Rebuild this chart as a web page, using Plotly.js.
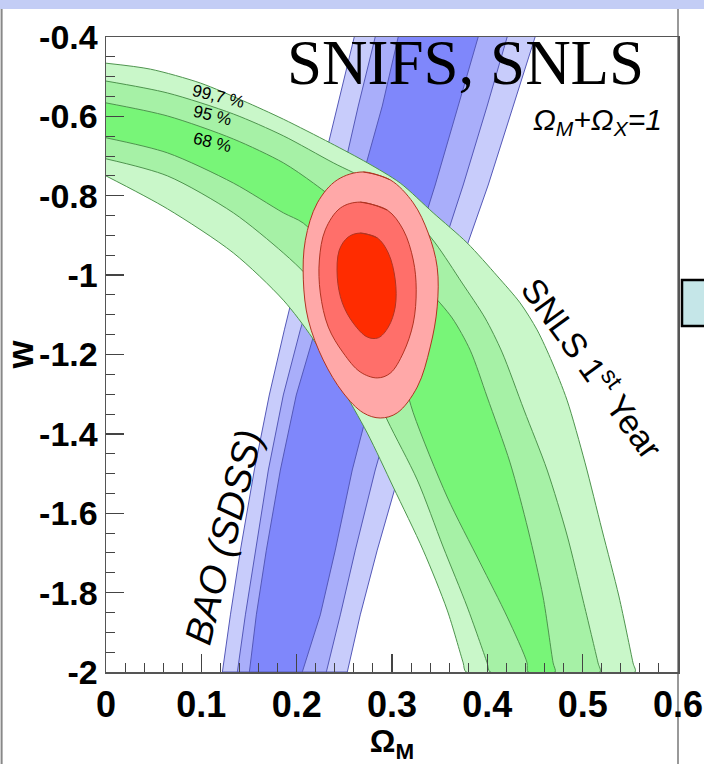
<!DOCTYPE html>
<html><head><meta charset="utf-8">
<script src="https://cdn.plot.ly/plotly-3.0.1.min.js"></script>
<style>html,body{margin:0;padding:0;background:#fff}#chart{width:704px;height:764px}</style>
</head><body><div id="chart"></div>
<script>
// ---------- axis ticks ----------
const xTickVals = [0, 0.1, 0.2, 0.3, 0.4, 0.5, 0.6];
const xTickText = ['0', '0.1', '0.2', '0.3', '0.4', '0.5', '0.6'];
const yTickVals = [-2, -1.8, -1.6, -1.4, -1.2, -1, -0.8, -0.6, -0.4];
const yTickText = ['-2', '-1.8', '-1.6', '-1.4', '-1.2', '-1', '-0.8', '-0.6', '-0.4'];

// ---------- SNLS 1st year contours (upper/right and lower/left boundaries) ----------
const snls997UpX = [0, 0.0466, 0.0990, 0.1441, 0.1860, 0.2353, 0.2741, 0.3086, 0.3432, 0.3789, 0.4103, 0.4344, 0.4522, 0.4679, 0.4836, 0.5025, 0.5203, 0.5382, 0.5528, 0.5549];
const snls997UpY = [-0.466, -0.481, -0.516, -0.561, -0.607, -0.667, -0.717, -0.768, -0.843, -0.919, -1.002, -1.070, -1.138, -1.219, -1.315, -1.473, -1.642, -1.811, -1.977, -2.0];
const snls997LoX = [0, 0.0645, 0.1336, 0.1860, 0.2164, 0.2458, 0.2741, 0.3013, 0.3327, 0.3579, 0.3747, 0.3778];
const snls997LoY = [-0.750, -0.833, -0.944, -1.063, -1.158, -1.277, -1.398, -1.534, -1.693, -1.844, -1.977, -2.0];

const snls95UpX = [0, 0.0645, 0.1336, 0.1860, 0.2384, 0.2803, 0.3139, 0.3453, 0.3736, 0.3976, 0.4154, 0.4385, 0.4627, 0.4836, 0.5004, 0.5161, 0.5182];
const snls95UpY = [-0.511, -0.541, -0.594, -0.649, -0.717, -0.768, -0.831, -0.919, -1.020, -1.108, -1.194, -1.340, -1.491, -1.655, -1.819, -1.977, -2.0];
const snls95LoX = [0, 0.0645, 0.1336, 0.1860, 0.2112, 0.2458, 0.2720, 0.2950, 0.3265, 0.3537, 0.3789, 0.3998, 0.4030];
const snls95LoY = [-0.707, -0.750, -0.843, -0.944, -1.002, -1.113, -1.239, -1.365, -1.516, -1.685, -1.836, -1.977, -2.0];

const snls68UpX = [0, 0.0645, 0.1336, 0.1860, 0.2175, 0.2562, 0.2982, 0.3380, 0.3631, 0.3820, 0.3998, 0.4239, 0.4428, 0.4585, 0.4690, 0.4711];
const snls68UpY = [-0.566, -0.599, -0.657, -0.717, -0.768, -0.841, -0.937, -1.037, -1.108, -1.189, -1.307, -1.473, -1.642, -1.811, -1.977, -2.0];
const snls68LoX = [0, 0.0645, 0.1336, 0.1860, 0.2070, 0.2458, 0.2772, 0.3034, 0.3223, 0.3579, 0.3925, 0.4208, 0.4417, 0.4427];
const snls68LoY = [-0.654, -0.692, -0.768, -0.843, -0.869, -0.969, -1.063, -1.189, -1.347, -1.559, -1.725, -1.861, -1.977, -2.0];

// ---------- BAO (SDSS) contours: left and right edges at shared w values ----------
const baoW = [-0.4, -0.574, -0.773, -0.974, -1.138, -1.302, -1.491, -1.693, -1.856, -2.0];
const bao997Left  = [0.2604, 0.2426, 0.2227, 0.2038, 0.1871, 0.1713, 0.1556, 0.1410, 0.1305, 0.1221];
const bao997Right = [0.4501, 0.4271, 0.4009, 0.3716, 0.3506, 0.3317, 0.3086, 0.2845, 0.2667, 0.2531];
const bao95Left   = [0.2824, 0.2646, 0.2457, 0.2248, 0.2038, 0.1860, 0.1703, 0.1567, 0.1462, 0.1378];
const bao95Right  = [0.4208, 0.3998, 0.3747, 0.3474, 0.3244, 0.3049, 0.2824, 0.2615, 0.2458, 0.2311];
const bao68Left   = [0.3065, 0.2898, 0.2667, 0.2426, 0.2196, 0.1996, 0.1829, 0.1682, 0.1577, 0.1504];
const bao68Right  = [0.3904, 0.3694, 0.3453, 0.3191, 0.2982, 0.2787, 0.2583, 0.2405, 0.2248, 0.2059];

// ---------- combined SNIFS + SNLS contours (closed curves) ----------
const comb997X = [0.2699, 0.2982, 0.3223, 0.3380, 0.3474, 0.3474, 0.3401, 0.3265, 0.3055, 0.2877, 0.2699, 0.2489, 0.2279, 0.2122, 0.2070, 0.2091, 0.2217, 0.2426];
const comb997Y = [-0.740, -0.760, -0.818, -0.894, -0.980, -1.080, -1.181, -1.282, -1.347, -1.360, -1.347, -1.297, -1.214, -1.113, -1.012, -0.912, -0.818, -0.760];
const comb95X = [0.2667, 0.2950, 0.3118, 0.3223, 0.3254, 0.3223, 0.3118, 0.2982, 0.2845, 0.2667, 0.2489, 0.2332, 0.2248, 0.2238, 0.2300, 0.2458];
const comb95Y = [-0.816, -0.836, -0.886, -0.962, -1.037, -1.121, -1.196, -1.247, -1.259, -1.244, -1.196, -1.131, -1.045, -0.962, -0.886, -0.831];
const comb68X = [0.2667, 0.2845, 0.2961, 0.3034, 0.3034, 0.2961, 0.2856, 0.2741, 0.2594, 0.2479, 0.2426, 0.2447, 0.2541];
const comb68Y = [-0.894, -0.906, -0.944, -1.012, -1.080, -1.131, -1.158, -1.156, -1.121, -1.070, -1.005, -0.937, -0.904];

// ---------- helpers ----------
function band(ux, uy, lx, ly) {
  return { x: ux.concat(lx.slice().reverse()), y: uy.concat(ly.slice().reverse()) };
}
function strip(left, right, w) {
  return { x: left.concat(right.slice().reverse()), y: w.concat(w.slice().reverse()) };
}
function closed(x, y) {
  return { x: x.concat([x[0], x[1]]), y: y.concat([y[0], y[1]]) };
}
function poly(p, fill, line, shape, smooth) {
  return {
    type: 'scatter', mode: 'lines', x: p.x, y: p.y, fill: 'toself',
    fillcolor: fill, line: { color: line, width: 1, shape: shape, smoothing: smooth || 1 },
    hoverinfo: 'skip', showlegend: false
  };
}

const blueLine = '#5458b8', greenLine = '#4e944e', redLine = '#b03422';
const traces = [
  poly(strip(bao997Left, bao997Right, baoW), '#c8ccfb', blueLine, 'linear'),
  poly(strip(bao95Left, bao95Right, baoW), '#a9aefa', blueLine, 'linear'),
  poly(strip(bao68Left, bao68Right, baoW), '#7f87fb', blueLine, 'linear'),
  poly(band(snls997UpX, snls997UpY, snls997LoX, snls997LoY), '#c9f7c9', greenLine, 'spline', 0.8),
  poly(band(snls95UpX, snls95UpY, snls95LoX, snls95LoY), '#a6f1a6', greenLine, 'spline', 0.8),
  poly(band(snls68UpX, snls68UpY, snls68LoX, snls68LoY), '#78f578', greenLine, 'spline', 0.8),
  poly(closed(comb997X, comb997Y), '#ffa8a8', redLine, 'spline', 1),
  poly(closed(comb95X, comb95Y), '#ff6f6a', redLine, 'spline', 1),
  poly(closed(comb68X, comb68Y), '#ff2c00', redLine, 'spline', 1)
];

const sans = 'Liberation Sans, Arial, sans-serif';
const tickFont = { family: sans, size: 34, weight: 'bold', color: '#000' };

const layout = {
  width: 704, height: 764,
  margin: { l: 105.5, r: 26, t: 37, b: 92 },
  paper_bgcolor: '#ffffff', plot_bgcolor: '#ffffff',
  showlegend: false,
  xaxis: {
    range: [0, 0.6], tickvals: xTickVals, ticktext: xTickText,
    ticks: 'inside', ticklen: 18, tickwidth: 1.3, tickcolor: '#444',
    minor: { ticks: 'inside', dtick: 0.02, tick0: 0, ticklen: 9, tickwidth: 1, tickcolor: '#444', showgrid: false },
    showline: true, linecolor: '#555', linewidth: 1.5, mirror: true,
    showgrid: false, zeroline: false,
    tickfont: Object.assign({}, tickFont, { size: 36 }),
    title: { text: 'Ω<sub>M</sub>', font: { family: sans, size: 32, weight: 'bold', color: '#000' }, standoff: 10 }
  },
  yaxis: {
    range: [-2, -0.4], tickvals: yTickVals, ticktext: yTickText,
    ticks: 'inside', ticklen: 18, tickwidth: 1.3, tickcolor: '#444',
    minor: { ticks: 'inside', dtick: 0.05, tick0: -2, ticklen: 9, tickwidth: 1, tickcolor: '#444', showgrid: false },
    showline: true, linecolor: '#555', linewidth: 1.5, mirror: true,
    showgrid: false, zeroline: false,
    tickfont: tickFont,
    title: { text: 'w', font: { family: sans, size: 36, weight: 'bold', color: '#000' }, standoff: 2 }
  },
  annotations: [
    { x: 0.3768, y: -0.466, xref: 'x', yref: 'y', text: 'SNIFS, SNLS', showarrow: false,
      font: { family: 'Liberation Serif, Times New Roman, serif', size: 63, color: '#000' } },
    { x: 0.516, y: -0.612, xref: 'x', yref: 'y', text: 'Ω<sub>M</sub>+Ω<sub>X</sub>=1', showarrow: false,
      font: { family: sans, size: 30, style: 'italic', color: '#000' } },
    { x: 0.1179, y: -0.549, xref: 'x', yref: 'y', text: '99,7 %', showarrow: false, textangle: 14,
      font: { family: sans, size: 17, color: '#000' } },
    { x: 0.1116, y: -0.599, xref: 'x', yref: 'y', text: '95 %', showarrow: false, textangle: 14,
      font: { family: sans, size: 17, color: '#000' } },
    { x: 0.1116, y: -0.665, xref: 'x', yref: 'y', text: '68 %', showarrow: false, textangle: 14,
      font: { family: sans, size: 17, color: '#000' } },
    { x: 0.512, y: -1.229, xref: 'x', yref: 'y', text: 'SNLS 1<sup>st</sup> Year', showarrow: false, textangle: 54,
      font: { family: sans, size: 34, color: '#000' } },
    { x: 0.1235, y: -1.660, xref: 'x', yref: 'y', text: 'BAO (SDSS)', showarrow: false, textangle: -76,
      font: { family: sans, size: 38, style: 'italic', color: '#000' } }
  ],
  shapes: [
    { type: 'rect', xref: 'paper', yref: 'paper', x0: -0.2, x1: 1.1, y0: 1.0441, y1: 1.08,
      fillcolor: '#c3cdf5', line: { width: 0 }, layer: 'above' },
    { type: 'line', xref: 'paper', yref: 'paper', x0: -0.1825, x1: -0.1825, y0: 1.0441, y1: -0.16,
      line: { color: '#888', width: 2 }, layer: 'below' },
    { type: 'line', xref: 'paper', yref: 'paper', x0: 1.0, x1: 1.0, y0: 1.0441, y1: -0.16,
      line: { color: '#777', width: 1.5 }, layer: 'below' },
    { type: 'rect', xref: 'paper', yref: 'paper', x0: 1.007, x1: 1.07, y0: 0.5449, y1: 0.6173,
      fillcolor: '#c5e6e8', line: { color: '#000', width: 2.5 } }
  ]
};

Plotly.newPlot('chart', traces, layout, { displayModeBar: false, staticPlot: true });
</script></body></html>
